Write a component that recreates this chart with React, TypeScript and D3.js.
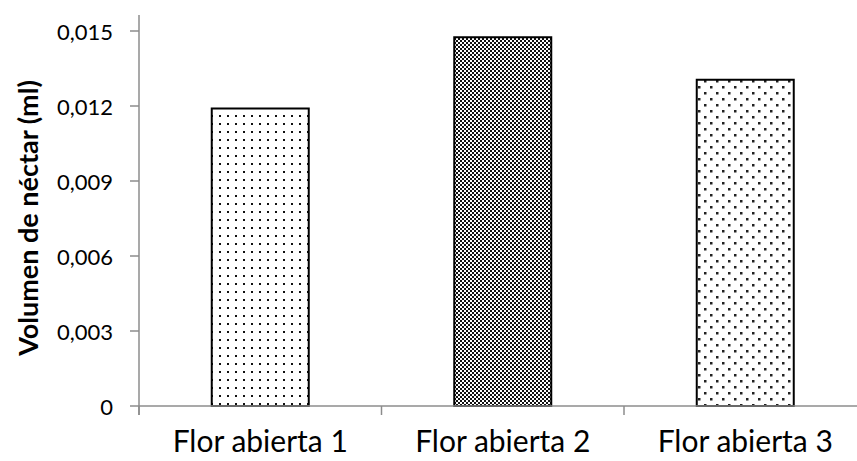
import React from "react";
import * as d3 from "d3";

const categories = ["Flor abierta 1", "Flor abierta 2", "Flor abierta 3"];
const values = [0.0119, 0.01475, 0.01305];
const yTicks = [0, 0.003, 0.006, 0.009, 0.012, 0.015];
const patternIds = ["dotsSparse", "checker", "dotsStaggered"];

const W = 857;
const H = 461;
const FONT = "Lato, 'Open Sans', sans-serif";

export default function App() {
  const x = d3.scaleBand<string>().domain(categories).range([139, 866.5]).padding(0);
  const y = d3.scaleLinear().domain([0, 0.015]).range([406, 31]);
  const barW = x.bandwidth() * 0.4;
  const fmt = (v: number) => (v === 0 ? "0" : d3.format(".3f")(v).replace(".", ","));
  const boundaries = [...categories.map((c) => x(c)!), x.range()[1]];

  return (
    <svg width={W} height={H} style={{ position: "absolute", left: 0, top: 0, background: "#fff" }}>
      <defs>
        <pattern id="dotsSparse" width={8} height={8} patternUnits="userSpaceOnUse">
          <rect width={8} height={8} fill="#fff" />
          <rect x={3} y={3} width={2} height={2} fill="#111" />
        </pattern>
        <pattern id="checker" width={4} height={4} patternUnits="userSpaceOnUse">
          <rect width={4} height={4} fill="#fff" />
          <rect x={0} y={0} width={2} height={2} fill="#111" />
          <rect x={2} y={2} width={2} height={2} fill="#111" />
        </pattern>
        <pattern id="dotsStaggered" width={12} height={12} patternUnits="userSpaceOnUse">
          <rect width={12} height={12} fill="#fff" />
          <rect x={2} y={2} width={2.5} height={2.5} fill="#222" />
          <rect x={8} y={8} width={2.5} height={2.5} fill="#222" />
        </pattern>
      </defs>

      {/* y axis */}
      <line x1={139} x2={139} y1={15} y2={415} stroke="#8c8c8c" strokeWidth={1.5} />
      {yTicks.map((t) => (
        <g key={t}>
          <line x1={130} x2={139} y1={y(t)} y2={y(t)} stroke="#8c8c8c" strokeWidth={1.5} />
          <text x={113} y={y(t) + 1} dy="0.36em" textAnchor="end" fontFamily={FONT} fontSize={22} fill="#000">
            {fmt(t)}
          </text>
        </g>
      ))}

      {/* bars */}
      {categories.map((c, i) => {
        const cx = x(c)! + x.bandwidth() / 2;
        return (
          <rect
            key={c}
            x={cx - barW / 2}
            y={y(values[i])}
            width={barW}
            height={y(0) - y(values[i])}
            fill={`url(#${patternIds[i]})`}
            stroke="#000"
            strokeWidth={2}
          />
        );
      })}

      {/* x axis */}
      <line x1={139} x2={x.range()[1]} y1={y(0)} y2={y(0)} stroke="#8c8c8c" strokeWidth={1.5} />
      {boundaries.map((b, i) => (
        <line key={i} x1={b} x2={b} y1={y(0)} y2={415} stroke="#8c8c8c" strokeWidth={1.5} />
      ))}
      {categories.map((c) => (
        <text
          key={c}
          x={x(c)! + x.bandwidth() / 2}
          y={452}
          textAnchor="middle"
          fontFamily={FONT}
          fontSize={30}
          fill="#000"
        >
          {c}
        </text>
      ))}

      {/* y axis title */}
      <text
        transform={`translate(38, 218) rotate(-90)`}
        textAnchor="middle"
        fontFamily={FONT}
        fontSize={27}
        fontWeight="bold"
        fill="#000"
      >
        Volumen de néctar (ml)
      </text>
    </svg>
  );
}
